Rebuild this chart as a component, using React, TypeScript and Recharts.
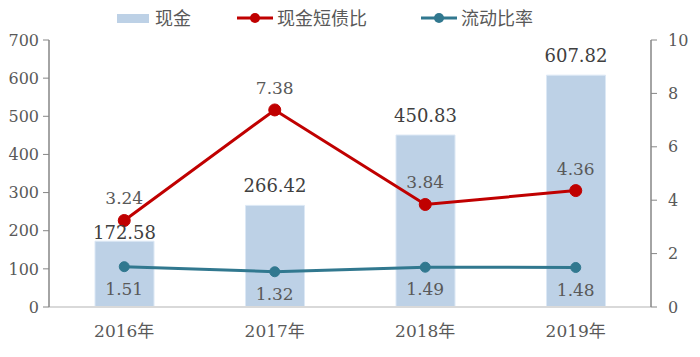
import React from "react";
import { ComposedChart, Bar, Line, XAxis, YAxis, LabelList } from "recharts";

const years = ["2016年", "2017年", "2018年", "2019年"];
const cash = [172.58, 266.42, 450.83, 607.82];
const cashRatio = [3.24, 7.38, 3.84, 4.36];
const currentRatio = [1.51, 1.32, 1.49, 1.48];
const leftTicks = [0, 100, 200, 300, 400, 500, 600, 700];
const rightTicks = [0, 2, 4, 6, 8, 10];
const legendNames = ["现金", "现金短债比", "流动比率"];

const data = years.map((y, i) => ({
  year: y,
  cash: cash[i],
  cashRatio: cashRatio[i],
  currentRatio: currentRatio[i],
}));

const FONT = "'DejaVu Serif', 'Noto Sans CJK SC', serif";
const LFONT = "'Noto Sans CJK SC', 'DejaVu Serif', serif";
const BAR = "#BDD1E6";
const RED = "#C00000";
const TEAL = "#31788F";

const fmt = (v: any) => Number(v).toFixed(2);

const BarLabel = (props: any) => {
  const { x, y, width, value, index } = props;
  const off = index === 0 ? 2 : 13;
  return (
    <text x={x + width / 2} y={y - off} textAnchor="middle" fontFamily={FONT} fontSize={18} fill="#404040">
      {fmt(value)}
    </text>
  );
};

const LegendOverlay = () => (
  <svg width={700} height={40} style={{ position: "absolute", left: 0, top: 0 }}>
    <rect x={117} y={14} width={32} height={9} fill={BAR} />
    <text x={155} y={25} fontFamily={LFONT} fontSize={18} fill="#595959">{legendNames[0]}</text>
    <line x1={237} y1={18} x2={273} y2={18} stroke={RED} strokeWidth={3} />
    <circle cx={255} cy={18} r={5} fill={RED} />
    <text x={277} y={25} fontFamily={LFONT} fontSize={18} fill="#595959">{legendNames[1]}</text>
    <line x1={421} y1={18} x2={457} y2={18} stroke={TEAL} strokeWidth={3} />
    <circle cx={439} cy={18} r={5} fill={TEAL} />
    <text x={461} y={25} fontFamily={LFONT} fontSize={18} fill="#595959">{legendNames[2]}</text>
  </svg>
);

export default function App() {
  return (
    <div style={{ position: "absolute", left: 0, top: 0, width: 700, height: 357, background: "#fff" }}>
      <ComposedChart width={700} height={357} data={data} margin={{ top: 40, right: 0, bottom: 15, left: 0 }} barCategoryGap={46}>
        <XAxis
          dataKey="year"
          height={35}
          tickLine={false}
          axisLine={{ stroke: "#D9D9D9", strokeWidth: 2 }}
          tick={{ fontFamily: FONT, fontSize: 17, fill: "#595959" }}
          tickMargin={12}
        />
        <YAxis
          yAxisId="left"
          width={49}
          domain={[0, 700]}
          ticks={leftTicks}
          interval={0}
          axisLine={{ stroke: "#868686", strokeWidth: 1.5 }}
          tickLine={{ stroke: "#868686" }}
          tickSize={6}
          tickMargin={4}
          tick={{ fontFamily: FONT, fontSize: 16, fill: "#595959" }}
        />
        <YAxis
          yAxisId="right"
          orientation="right"
          width={49}
          domain={[0, 10]}
          ticks={rightTicks}
          interval={0}
          axisLine={{ stroke: "#868686", strokeWidth: 1.5 }}
          tickLine={{ stroke: "#868686" }}
          tickSize={6}
          tickMargin={11}
          tick={{ fontFamily: FONT, fontSize: 16, fill: "#595959", textAnchor: "start" }}
        />
        <Bar yAxisId="left" dataKey="cash" fill={BAR} stroke="#DCE8F5" strokeWidth={1} barSize={59} isAnimationActive={false}>
          <LabelList dataKey="cash" content={<BarLabel />} />
        </Bar>
        <Line
          yAxisId="right"
          dataKey="cashRatio"
          stroke={RED}
          strokeWidth={3}
          dot={{ r: 6, fill: RED, stroke: RED, strokeWidth: 1 }}
          isAnimationActive={false}
        >
          <LabelList dataKey="cashRatio" position="top" offset={16} formatter={fmt} style={{ fontFamily: FONT, fontSize: 17, fill: "#595959" }} />
        </Line>
        <Line
          yAxisId="right"
          dataKey="currentRatio"
          stroke={TEAL}
          strokeWidth={3}
          dot={{ r: 5, fill: TEAL, stroke: TEAL, strokeWidth: 1 }}
          isAnimationActive={false}
        >
          <LabelList dataKey="currentRatio" position="bottom" offset={16} formatter={fmt} style={{ fontFamily: FONT, fontSize: 17, fill: "#595959" }} />
        </Line>
      </ComposedChart>
      <LegendOverlay />
    </div>
  );
}
